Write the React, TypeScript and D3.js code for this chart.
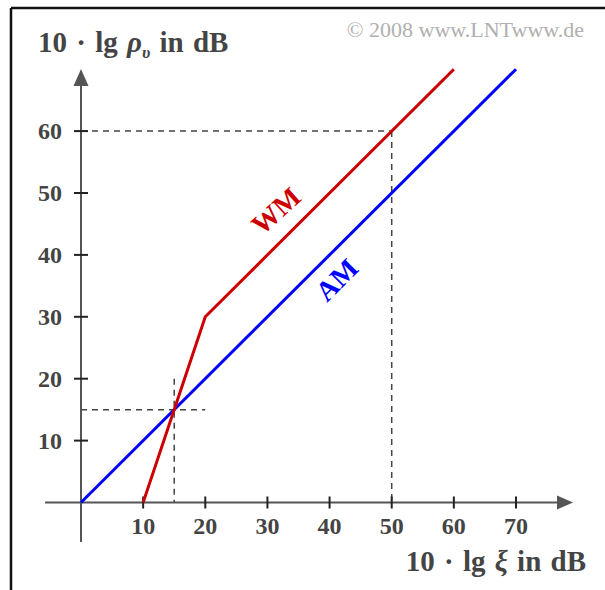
import React from "react";
import * as d3 from "d3";

const amX = [0, 70];
const amY = [0, 70];
const wmX = [10, 20, 60];
const wmY = [0, 30, 70];
const xTicks = [10, 20, 30, 40, 50, 60, 70];
const yTicks = [10, 20, 30, 40, 50, 60];
const guideA = { x: 50, y: 60 };
const guideB = { x: 15, y: 15, ext: 20 };

export default function App() {
  const W = 605, H = 590;
  const x = d3.scaleLinear().domain([0, 70]).range([81, 516]);
  const y = d3.scaleLinear().domain([0, 70]).range([502.5, 69.2]);
  const line = d3.line<[number, number]>().x(d => x(d[0])).y(d => y(d[1]));
  const am = line(amX.map((v, i) => [v, amY[i]] as [number, number]))!;
  const wm = line(wmX.map((v, i) => [v, wmY[i]] as [number, number]))!;
  const axisColor = "#555";
  const textColor = "#444";
  const font = "'Liberation Serif', 'Times New Roman', serif";
  const x0 = x(0), y0 = y(0);
  return (
    <svg width={W} height={H} style={{ position: "absolute", left: 0, top: 0, background: "#fff" }}>
      {/* frame */}
      <line x1={11} y1={8} x2={W} y2={8} stroke="#111" strokeWidth={2.5} />
      <line x1={11} y1={8} x2={11} y2={H} stroke="#111" strokeWidth={2.5} />
      {/* copyright */}
      <text x={584} y={37} textAnchor="end" fontFamily={font} fontSize={22} fill="#b0b0b0">© 2008 www.LNTwww.de</text>
      {/* dashed guides */}
      <g stroke="#444" strokeWidth={1.5} strokeDasharray="6,5" fill="none">
        <line x1={x0} y1={y(guideA.y)} x2={x(guideA.x)} y2={y(guideA.y)} />
        <line x1={x(guideA.x)} y1={y(guideA.y)} x2={x(guideA.x)} y2={y0} />
        <line x1={x0} y1={y(guideB.y)} x2={x(guideB.ext)} y2={y(guideB.y)} />
        <line x1={x(guideB.x)} y1={y(guideB.ext)} x2={x(guideB.x)} y2={y0} />
      </g>
      {/* axes */}
      <line x1={45} y1={y0} x2={560} y2={y0} stroke={axisColor} strokeWidth={2} />
      <path d={`M573,${y0} L557,${y0 - 7} L557,${y0 + 7} Z`} fill={axisColor} />
      <line x1={x0} y1={542} x2={x0} y2={82} stroke={axisColor} strokeWidth={2} />
      <path d={`M${x0},69 L${x0 - 7.5},86 L${x0 + 7.5},86 Z`} fill={axisColor} />
      {xTicks.map(t => (
        <g key={"x" + t}>
          <line x1={x(t)} y1={y0 - 6} x2={x(t)} y2={y0 + 6} stroke="#222" strokeWidth={2} />
          <text x={x(t)} y={534} textAnchor="middle" fontFamily={font} fontWeight="bold" fontSize={24} fill={textColor}>{t}</text>
        </g>
      ))}
      {yTicks.map(t => (
        <g key={"y" + t}>
          <line x1={x0 - 7} y1={y(t)} x2={x0 + 7} y2={y(t)} stroke="#222" strokeWidth={2} />
          <text x={62} y={y(t) + 8} textAnchor="end" fontFamily={font} fontWeight="bold" fontSize={24} fill={textColor}>{t}</text>
        </g>
      ))}
      {/* curves */}
      <path d={am} stroke="#0000ff" strokeWidth={3} fill="none" />
      <path d={wm} stroke="#cc0000" strokeWidth={3} fill="none" />
      <text transform="translate(278,213) rotate(-42)" textAnchor="middle" dominantBaseline="middle" fontFamily={font} fontWeight="bold" fontSize={28} fill="#cc0000">WM</text>
      <text transform="translate(339,282) rotate(-45)" textAnchor="middle" dominantBaseline="middle" fontFamily={font} fontWeight="bold" fontSize={28} fill="#0000ff">AM</text>
      {/* axis titles */}
      <text x={38} y={52} fontFamily={font} fontWeight="bold" fontSize={29} wordSpacing={2} fill={textColor}>
        10 · lg <tspan fontStyle="italic">ρ</tspan><tspan fontStyle="italic" fontSize={17} dy={6}>υ</tspan><tspan dy={-6}> in dB</tspan>
      </text>
      <text x={586} y={571} textAnchor="end" fontFamily={font} fontWeight="bold" fontSize={29} wordSpacing={2} fill={textColor}>
        10 · lg <tspan fontStyle="italic">ξ</tspan> in dB
      </text>
    </svg>
  );
}
